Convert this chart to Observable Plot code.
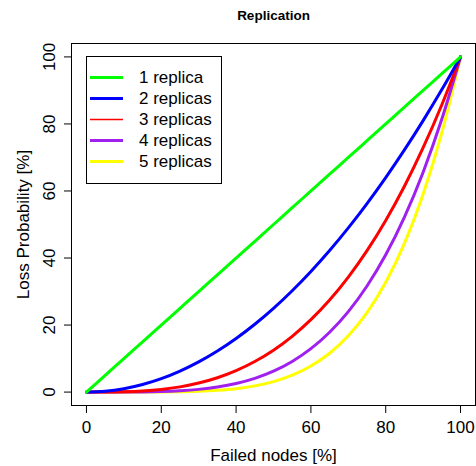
<!DOCTYPE html>
<html>
<head>
<meta charset="utf-8">
<script src="https://cdn.jsdelivr.net/npm/d3@7"></script>
<script src="https://cdn.jsdelivr.net/npm/@observablehq/plot@0.6"></script>
<style>
  html, body { margin: 0; padding: 0; background: #fff; }
  svg { display: block; }
</style>
</head>
<body>
<div id="chart"></div>
<script>
// Failed nodes [%]
const failed = [0, 5, 10, 15, 20, 25, 30, 35, 40, 45, 50, 55, 60, 65, 70, 75, 80, 85, 90, 95, 100];
// Loss probability [%] per replica count
const rep1 = [0, 5, 10, 15, 20, 25, 30, 35, 40, 45, 50, 55, 60, 65, 70, 75, 80, 85, 90, 95, 100];
const rep2 = [0, 0.25, 1, 2.25, 4, 6.25, 9, 12.25, 16, 20.25, 25, 30.25, 36, 42.25, 49, 56.25, 64, 72.25, 81, 90.25, 100];
const rep3 = [0, 0.01, 0.1, 0.34, 0.8, 1.56, 2.7, 4.29, 6.4, 9.11, 12.5, 16.64, 21.6, 27.46, 34.3, 42.19, 51.2, 61.41, 72.9, 85.74, 100];
const rep4 = [0, 0, 0.01, 0.05, 0.16, 0.39, 0.81, 1.5, 2.56, 4.1, 6.25, 9.15, 12.96, 17.85, 24.01, 31.64, 40.96, 52.2, 65.61, 81.45, 100];
const rep5 = [0, 0, 0, 0.01, 0.03, 0.1, 0.24, 0.53, 1.02, 1.85, 3.13, 5.03, 7.78, 11.6, 16.81, 23.73, 32.77, 44.37, 59.05, 77.38, 100];
const seriesNames = ["1 replica", "2 replicas", "3 replicas", "4 replicas", "5 replicas"];
const seriesColors = ["#00FF00", "#0000FF", "#FF0000", "#A020F0", "#FFFF00"];
const legendWidths = [3, 3, 1.3, 3, 3];
const xTicks = [0, 20, 40, 60, 80, 100];
const yTicks = [0, 20, 40, 60, 80, 100];
const titleText = "Replication";
const xLabel = "Failed nodes [%]";
const yLabel = "Loss Probability [%]";

const allSeries = [rep1, rep2, rep3, rep4, rep5];
const rows = [];
// draw highest replica count first so lower counts sit on top
for (let s = allSeries.length - 1; s >= 0; s--) {
  allSeries[s].forEach((v, i) => rows.push({x: failed[i], y: v, series: seriesNames[s]}));
}

const FONT = "'Liberation Sans', Arial, Helvetica, sans-serif";

const svg = Plot.plot({
  width: 476,
  height: 466,
  marginLeft: 71,
  marginRight: 1,
  marginTop: 43,
  marginBottom: 61,
  style: {fontFamily: FONT, fontSize: "17px", color: "#000", background: "#fff"},
  x: {domain: [-4, 104]},
  y: {domain: [-4, 104]},
  color: {domain: seriesNames, range: seriesColors},
  marks: [
    Plot.frame({stroke: "#000", strokeWidth: 1}),
    Plot.line(rows, {x: "x", y: "y", z: "series", stroke: "series", strokeWidth: 3, curve: "monotone-x"}),
    Plot.axisX(xTicks, {tickSize: 8, tickPadding: 7, fontSize: 17, label: null, stroke: "#000"}),
    Plot.axisY(yTicks, {tickSize: 7, tickFormat: () => "", label: null, stroke: "#000"}),
    Plot.text(yTicks, {y: d => d, text: d => String(d), frameAnchor: "left", dx: -22, rotate: -90, fontSize: 17, lineAnchor: "middle", textAnchor: "middle"}),
    Plot.text([yLabel], {frameAnchor: "left", dx: -48, rotate: -90, fontSize: 17, lineAnchor: "middle", textAnchor: "middle"}),
    Plot.text([xLabel], {frameAnchor: "bottom", dy: 50, fontSize: 17, lineAnchor: "middle", textAnchor: "middle"}),
    Plot.text([titleText], {frameAnchor: "top", dy: -28, fontSize: 13.5, fontWeight: "bold", lineAnchor: "middle", textAnchor: "middle"})
  ]
});

// Legend box (R-style)
const lg = d3.select(svg).append("g").attr("font-family", FONT).attr("font-size", 17).attr("text-anchor", "start");
lg.append("rect").attr("x", 86.5).attr("y", 56.5).attr("width", 135).attr("height", 127)
  .attr("fill", "#fff").attr("stroke", "#000").attr("stroke-width", 1);
seriesNames.forEach((name, i) => {
  const yy = 77.5 + i * 21;
  lg.append("line").attr("x1", 90).attr("x2", 123).attr("y1", yy).attr("y2", yy)
    .attr("stroke", seriesColors[i]).attr("stroke-width", legendWidths[i]);
  lg.append("text").attr("x", 139).attr("y", yy).attr("dy", "0.35em")
    .attr("text-anchor", "start").attr("fill", "#000").text(name);
});

document.getElementById("chart").appendChild(svg);
</script>
</body>
</html>
